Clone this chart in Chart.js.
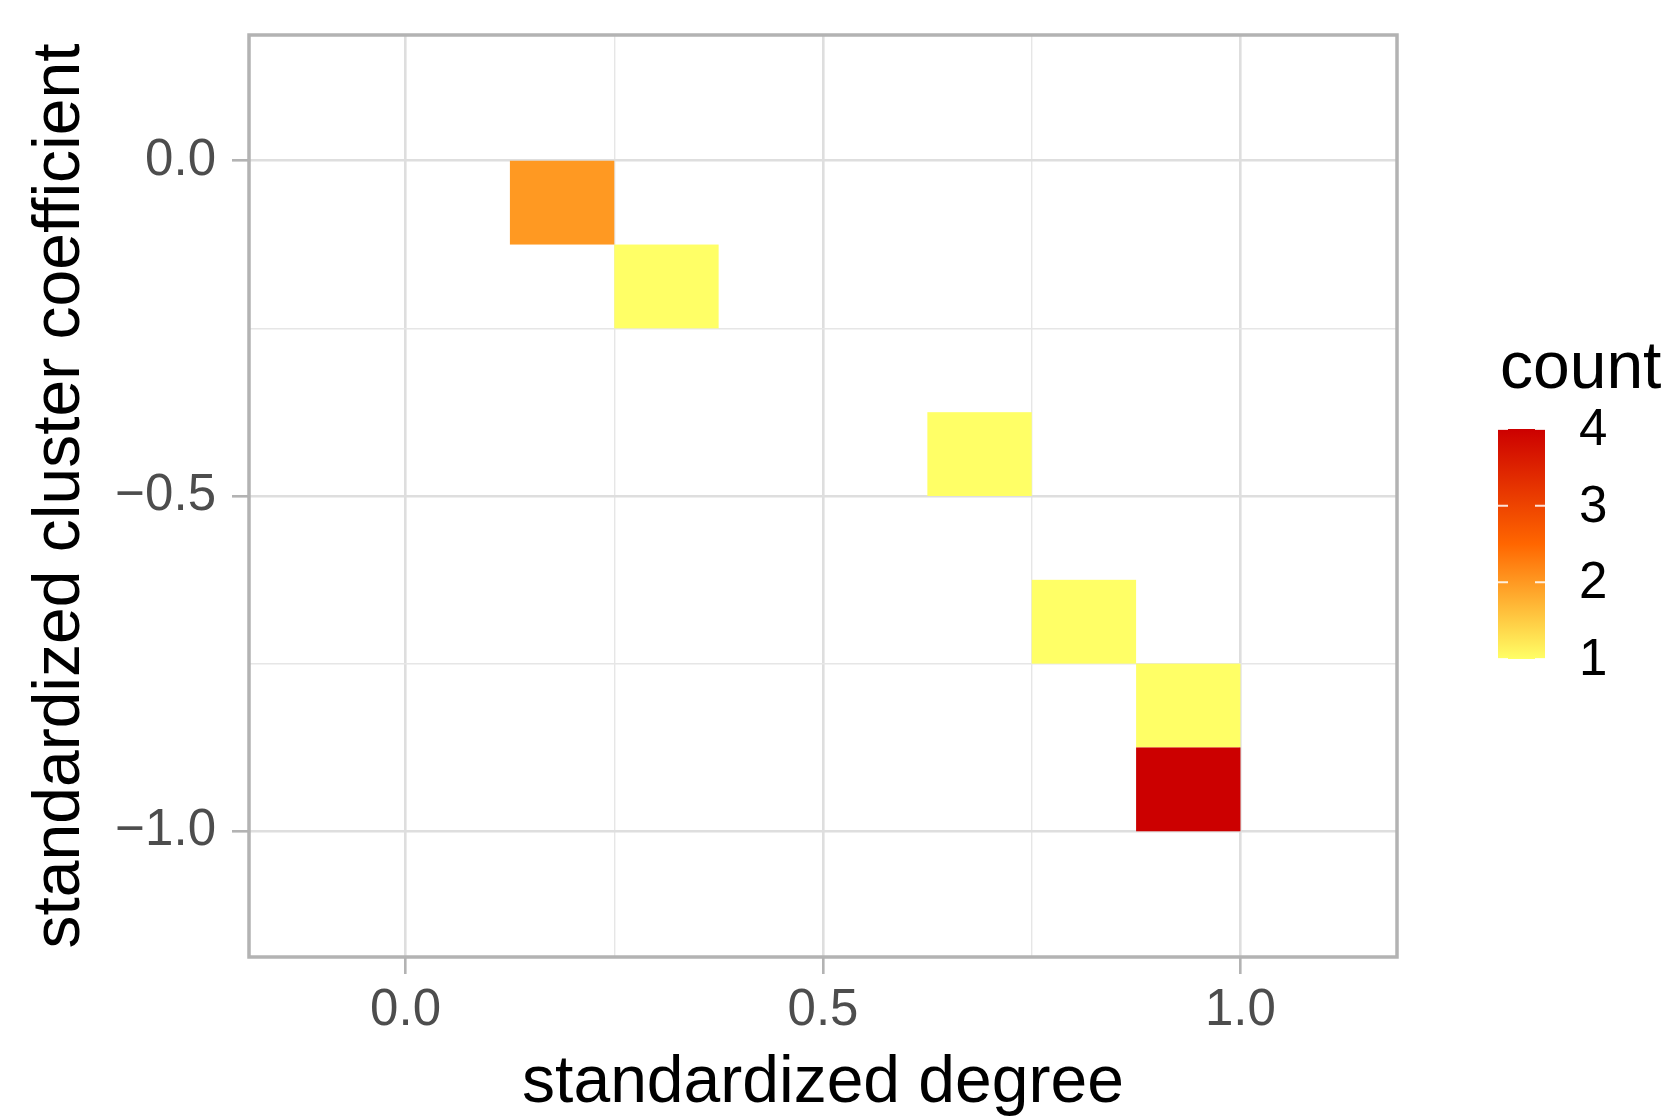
<!DOCTYPE html>
<html>
<head>
<meta charset="utf-8">
<script src="https://cdn.jsdelivr.net/npm/chart.js@4.4.1/dist/chart.umd.min.js"></script>
<style>
  html, body { margin: 0; padding: 0; background: #fff; }
  canvas { display: block; }
</style>
</head>
<body>
<canvas id="binChart" width="1672" height="1119"></canvas>
<script>
// filled bins: left edge, bottom edge, count
const binLeft   = [0.125, 0.25, 0.625, 0.75, 0.875, 0.875];
const binBottom = [-0.125, -0.25, -0.5, -0.75, -0.875, -1.0];
const binCount  = [2, 1, 1, 1, 1, 4];
const binWidth  = 0.125;

const xTickValues = [0, 0.25, 0.5, 0.75, 1];
const xTickLabels = ['0.0', '', '0.5', '', '1.0'];
const yTickValues = [-1, -0.75, -0.5, -0.25, 0];
const yTickLabels = ['\u22121.0', '', '\u22120.5', '', '0.0'];

const countBreaks = [1, 2, 3, 4];
const countStops = ['#FFFF66', '#FF6600', '#CC0000'];

const FONT = "'Liberation Sans', Arial, Helvetica, sans-serif";

function hexRgb(h) {
    return [1, 3, 5].map(i => parseInt(h.substr(i, 2), 16));
}

function countColor(v) {
    const t = (v - countBreaks[0]) / (countBreaks[countBreaks.length - 1] - countBreaks[0]);
    const seg = Math.min(countStops.length - 2, Math.floor(t * (countStops.length - 1)));
    const f = t * (countStops.length - 1) - seg;
    const a = hexRgb(countStops[seg]);
    const b = hexRgb(countStops[seg + 1]);
    const c = a.map((ai, i) => Math.round(ai + (b[i] - ai) * f));
    return `rgb(${c[0]}, ${c[1]}, ${c[2]})`;
}

function isMajor(v) {
    return Math.abs(v * 2 - Math.round(v * 2)) < 1e-9;
}

const gridColor = ctx => (ctx.tick && isMajor(ctx.tick.value)) ? '#DEDEDE' : '#E6E6E6';
const gridWidth = ctx => (ctx.tick && isMajor(ctx.tick.value)) ? 2.6 : 1.4;
const tickColor = ctx => (ctx.tick && isMajor(ctx.tick.value)) ? '#B3B3B3' : 'rgba(0,0,0,0)';

const heatPlugin = {
    id: 'heatPlugin',
    beforeDatasetsDraw(chart) {
        const { ctx, scales: { x, y } } = chart;
        ctx.save();
        binCount.forEach((c, i) => {
            const x0 = x.getPixelForValue(binLeft[i]);
            const x1 = x.getPixelForValue(binLeft[i] + binWidth);
            const y0 = y.getPixelForValue(binBottom[i]);
            const y1 = y.getPixelForValue(binBottom[i] + binWidth);
            ctx.fillStyle = countColor(c);
            ctx.fillRect(x0, y1, x1 - x0, y0 - y1);
        });
        ctx.restore();
    },
    afterDraw(chart) {
        const { ctx, chartArea: a } = chart;
        ctx.save();

        // panel border
        ctx.strokeStyle = '#B3B3B3';
        ctx.lineWidth = 3.5;
        ctx.strokeRect(a.left, a.top, a.right - a.left, a.bottom - a.top);

        // colour bar legend
        const barX = 1498, barW = 47, barTop = 429, barH = 230;
        const lo = countBreaks[0], hi = countBreaks[countBreaks.length - 1];
        const valY = v => barTop + barH * (hi - v) / (hi - lo);

        ctx.fillStyle = '#000';
        ctx.font = `66px ${FONT}`;
        ctx.textAlign = 'left';
        ctx.textBaseline = 'alphabetic';
        ctx.fillText('count', 1500, 388);

        const grad = ctx.createLinearGradient(0, barTop + barH, 0, barTop);
        countStops.forEach((c, i) => grad.addColorStop(i / (countStops.length - 1), c));
        ctx.fillStyle = grad;
        ctx.fillRect(barX, barTop, barW, barH);

        ctx.strokeStyle = 'rgba(255,255,255,0.85)';
        ctx.lineWidth = 2;
        countBreaks.forEach(v => {
            const py = valY(v);
            ctx.beginPath();
            ctx.moveTo(barX, py); ctx.lineTo(barX + 10, py);
            ctx.moveTo(barX + barW - 10, py); ctx.lineTo(barX + barW, py);
            ctx.stroke();
        });

        ctx.fillStyle = '#000';
        ctx.font = `51px ${FONT}`;
        ctx.textBaseline = 'middle';
        countBreaks.forEach(v => ctx.fillText(String(v), 1579, valY(v) + 2));

        ctx.restore();
    }
};

new Chart(document.getElementById('binChart').getContext('2d'), {
    type: 'scatter',
    data: {
        datasets: [{
            label: 'count',
            data: binCount.map((c, i) => ({ x: binLeft[i] + binWidth / 2, y: binBottom[i] + binWidth / 2, count: c })),
            pointRadius: 0,
            pointHoverRadius: 0
        }]
    },
    options: {
        responsive: false,
        devicePixelRatio: 1,
        animation: false,
        layout: { padding: { top: 35, right: 275, left: 0, bottom: 0 } },
        plugins: { legend: { display: false }, tooltip: { enabled: false } },
        scales: {
            x: {
                type: 'linear',
                min: -0.1875,
                max: 1.1875,
                afterBuildTicks: s => { s.ticks = xTickValues.map(v => ({ value: v })); },
                afterFit: s => { s.height = 162; s.paddingLeft = 0; s.paddingRight = 0; },
                grid: { color: gridColor, lineWidth: gridWidth, tickColor: tickColor, tickWidth: 2.6, tickLength: 17 },
                border: { display: false },
                ticks: {
                    autoSkip: false,
                    maxRotation: 0,
                    padding: 6,
                    color: '#4D4D4D',
                    font: { size: 51, family: FONT },
                    callback: v => xTickLabels[xTickValues.indexOf(v)]
                },
                title: {
                    display: true,
                    text: 'standardized degree',
                    color: '#000',
                    font: { size: 66, family: FONT, lineHeight: 1.12 },
                    padding: { top: 0, bottom: -2 }
                }
            },
            y: {
                type: 'linear',
                min: -1.1875,
                max: 0.1875,
                afterBuildTicks: s => { s.ticks = yTickValues.map(v => ({ value: v })); },
                afterFit: s => { s.width = 249; s.paddingTop = 0; s.paddingBottom = 0; },
                grid: { color: gridColor, lineWidth: gridWidth, tickColor: tickColor, tickWidth: 2.6, tickLength: 17 },
                border: { display: false },
                ticks: {
                    autoSkip: false,
                    padding: 16,
                    color: '#4D4D4D',
                    font: { size: 51, family: FONT },
                    callback: v => yTickLabels[yTickValues.indexOf(v)]
                },
                title: {
                    display: true,
                    text: 'standardized cluster coefficient',
                    color: '#000',
                    font: { size: 66, family: FONT, lineHeight: 1.12 },
                    padding: { top: 24, bottom: 0 }
                }
            }
        }
    },
    plugins: [heatPlugin]
});
</script>
</body>
</html>
